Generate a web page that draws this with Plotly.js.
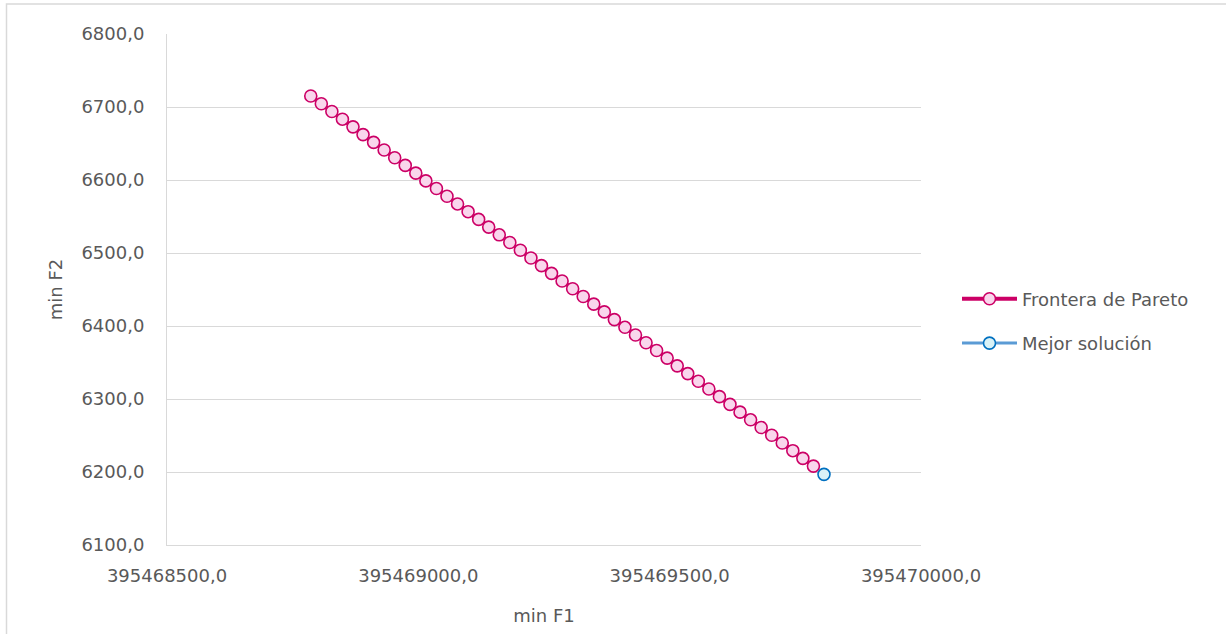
<!DOCTYPE html>
<html>
<head>
<meta charset="utf-8">
<script src="https://cdn.plot.ly/plotly-3.0.1.min.js"></script>
<style>
  html, body { margin: 0; padding: 0; background: #ffffff; }
  #chart { width: 1226px; height: 634px; }
</style>
</head>
<body>
<div id="chart"></div>
<script>
// Pareto front: objective F1 (x) against objective F2 (y)
const paretoF1 = [
  395468786, 395468807, 395468828, 395468849, 395468870, 395468890, 395468911, 395468932, 395468953, 395468974,
  395468995, 395469015, 395469036, 395469057, 395469078, 395469099, 395469120, 395469140, 395469161, 395469182,
  395469203, 395469224, 395469245, 395469265, 395469286, 395469307, 395469328, 395469349, 395469370, 395469390,
  395469411, 395469432, 395469453, 395469474, 395469495, 395469515, 395469536, 395469557, 395469578, 395469599,
  395469620, 395469640, 395469661, 395469682, 395469703, 395469724, 395469745, 395469765, 395469786
];
const paretoF2 = [
  6715.0, 6704.4, 6693.9, 6683.3, 6672.8, 6662.2, 6651.6, 6641.1, 6630.5, 6620.0,
  6609.4, 6598.8, 6588.3, 6577.7, 6567.2, 6556.6, 6546.0, 6535.5, 6524.9, 6514.4,
  6503.8, 6493.2, 6482.7, 6472.1, 6461.6, 6451.0, 6440.4, 6429.9, 6419.3, 6408.8,
  6398.2, 6387.6, 6377.1, 6366.5, 6356.0, 6345.4, 6334.8, 6324.3, 6313.7, 6303.2,
  6292.6, 6282.0, 6271.5, 6260.9, 6250.4, 6239.8, 6229.2, 6218.7, 6208.1
];

// Selected best solution
const bestF1 = [395469807];
const bestF2 = [6196.8];

// Series names and axis labels
const seriesNames = ['Frontera de Pareto', 'Mejor solución'];
const xTitle = 'min F1';
const yTitle = 'min F2';

const FONT = 'DejaVu Sans, sans-serif';
const FS = 18;
const TEXT = '#595959';
const GRID = '#d9d9d9';

const traces = [
  {
    x: paretoF1, y: paretoF2, name: seriesNames[0],
    type: 'scatter', mode: 'lines+markers',
    legendgroup: 'a',
    line: { color: '#CC0066', width: 4 },
    marker: { symbol: 'circle', size: 12, color: '#F9D6EC', line: { color: '#CC0066', width: 1.6 } }
  },
  {
    x: bestF1, y: bestF2, name: seriesNames[1],
    type: 'scatter', mode: 'lines+markers',
    legendgroup: 'b',
    line: { color: '#5B9BD5', width: 3 },
    marker: { symbol: 'circle', size: 12, color: '#D9F2F7', line: { color: '#0070C0', width: 1.6 } }
  }
];

// Plot area spans pixels 167..921 horizontally, 34..545 vertically
const L = 167, R = 921, T = 34, B = 545, W = 1226, H = 634;
const px = v => (v - L) / (R - L);
const py = v => (B - v) / (B - T);

const layout = {
  width: W, height: H,
  margin: { l: L, r: W - R, t: T, b: H - B, pad: 0 },
  paper_bgcolor: '#ffffff',
  plot_bgcolor: '#ffffff',
  separators: ',.',
  font: { family: FONT, size: FS, color: TEXT },
  showlegend: true,
  legend: {
    x: px(957), y: py(321), xanchor: 'left', yanchor: 'middle',
    bgcolor: 'rgba(0,0,0,0)',
    traceorder: 'grouped', tracegroupgap: 18,
    itemwidth: 55,
    font: { family: FONT, size: FS, color: TEXT }
  },
  xaxis: {
    range: [395468500, 395470000],
    tick0: 395468500, dtick: 500,
    tickformat: '.1f',
    showgrid: false, zeroline: false,
    showline: true, linecolor: GRID, linewidth: 1,
    ticks: '', ticklabelstandoff: 14,
    tickfont: { family: FONT, size: FS, color: TEXT },
    title: { text: xTitle, font: { family: FONT, size: FS, color: TEXT }, standoff: 24 },
    automargin: false, fixedrange: true
  },
  yaxis: {
    range: [6100, 6800],
    tick0: 6100, dtick: 100,
    tickformat: '.1f',
    showgrid: true, gridcolor: GRID, gridwidth: 1,
    zeroline: false,
    showline: true, linecolor: GRID, linewidth: 1,
    ticks: '', ticklabelstandoff: 18,
    tickfont: { family: FONT, size: FS, color: TEXT },
    title: { text: yTitle, font: { family: FONT, size: FS, color: TEXT }, standoff: 14 },
    automargin: false, fixedrange: true
  },
  shapes: [
    {
      type: 'rect', xref: 'paper', yref: 'paper', layer: 'below',
      x0: px(6.5), x1: px(1240), y0: py(650), y1: py(4),
      line: { color: GRID, width: 1.5 }, fillcolor: 'rgba(0,0,0,0)'
    }
  ]
};

Plotly.newPlot('chart', traces, layout, { displayModeBar: false, staticPlot: true });
</script>
</body>
</html>
